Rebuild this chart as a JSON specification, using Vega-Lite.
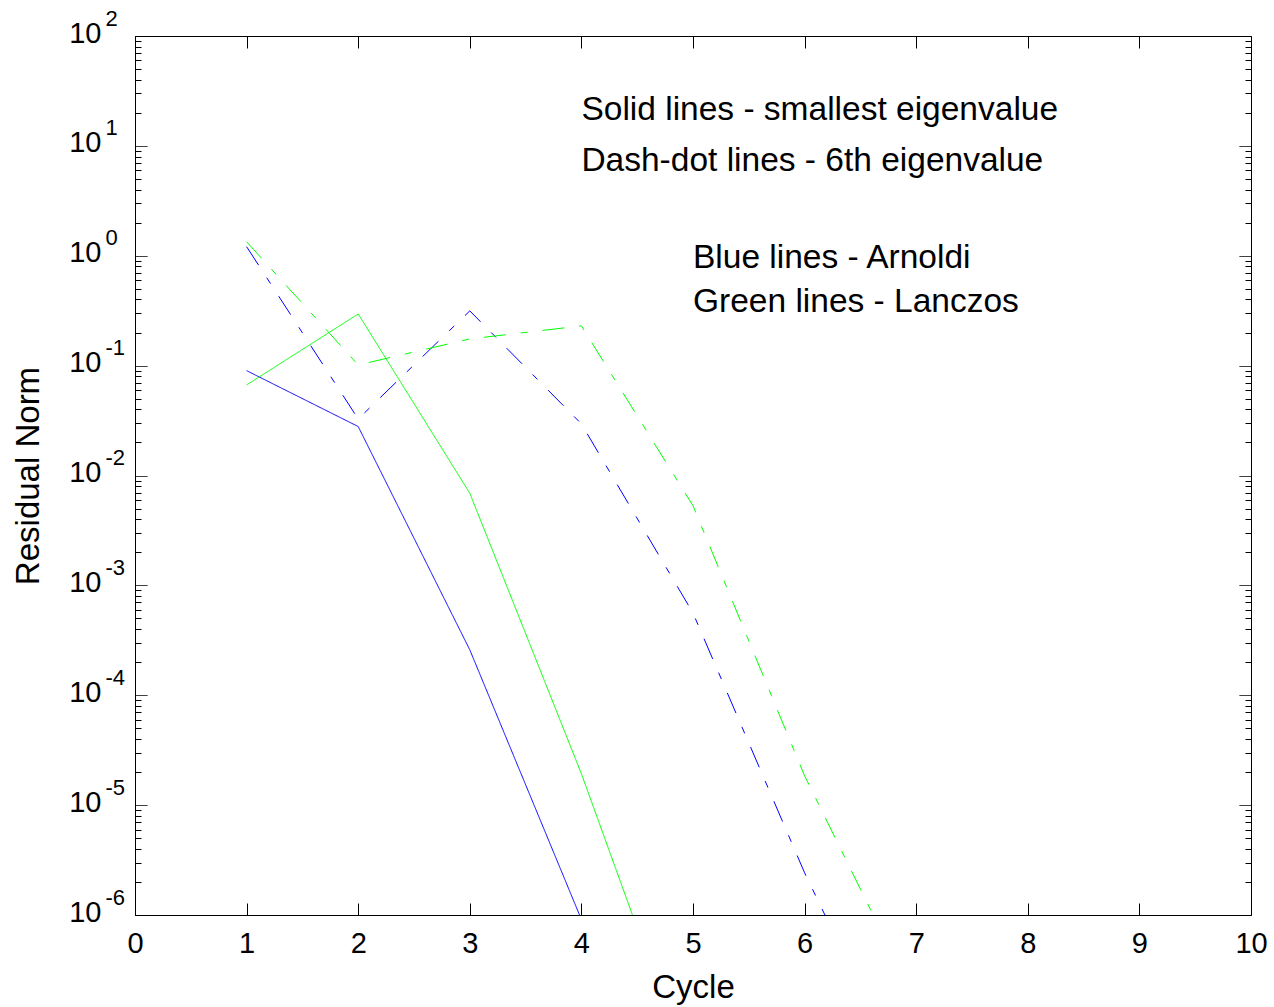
{
  "$schema": "https://vega.github.io/schema/vega-lite/v6.json",
  "width": 1116,
  "height": 879,
  "autosize": {"type": "none"},
  "padding": {"left": 135, "top": 36, "right": 23, "bottom": 92},
  "background": "white",
  "config": {
    "view": {"stroke": null},
    "font": "Liberation Sans",
    "axis": {
      "grid": false,
      "domainColor": "black",
      "tickColor": "black",
      "labelColor": "black",
      "titleColor": "black",
      "labelFont": "Liberation Sans",
      "titleFont": "Liberation Sans",
      "titleFontWeight": "normal",
      "domainWidth": 1,
      "tickWidth": 1,
      "labelOverlap": false,
      "labelFlush": false,
      "labelBound": false
    }
  },
  "datasets": {
    "series": [
      {"method": "Arnoldi", "eig": "smallest", "cycle": 1, "res": 0.090},
      {"method": "Arnoldi", "eig": "smallest", "cycle": 2, "res": 0.0279},
      {"method": "Arnoldi", "eig": "smallest", "cycle": 3, "res": 0.000259},
      {"method": "Arnoldi", "eig": "smallest", "cycle": 4, "res": 9.1e-7},
      {"method": "Lanczos", "eig": "smallest", "cycle": 1, "res": 0.0667},
      {"method": "Lanczos", "eig": "smallest", "cycle": 2, "res": 0.295},
      {"method": "Lanczos", "eig": "smallest", "cycle": 3, "res": 0.0069},
      {"method": "Lanczos", "eig": "smallest", "cycle": 4, "res": 1.93e-5},
      {"method": "Lanczos", "eig": "smallest", "cycle": 5, "res": 3e-8},
      {"method": "Arnoldi", "eig": "6th", "cycle": 1, "res": 1.21},
      {"method": "Arnoldi", "eig": "6th", "cycle": 2, "res": 0.0327},
      {"method": "Arnoldi", "eig": "6th", "cycle": 3, "res": 0.315},
      {"method": "Arnoldi", "eig": "6th", "cycle": 4, "res": 0.0295},
      {"method": "Arnoldi", "eig": "6th", "cycle": 5, "res": 0.00056},
      {"method": "Arnoldi", "eig": "6th", "cycle": 6, "res": 2.42e-6},
      {"method": "Arnoldi", "eig": "6th", "cycle": 7, "res": 1.9e-8},
      {"method": "Lanczos", "eig": "6th", "cycle": 1, "res": 1.34},
      {"method": "Lanczos", "eig": "6th", "cycle": 2, "res": 0.1014},
      {"method": "Lanczos", "eig": "6th", "cycle": 3, "res": 0.175},
      {"method": "Lanczos", "eig": "6th", "cycle": 4, "res": 0.230},
      {"method": "Lanczos", "eig": "6th", "cycle": 5, "res": 0.0053},
      {"method": "Lanczos", "eig": "6th", "cycle": 6, "res": 1.85e-5},
      {"method": "Lanczos", "eig": "6th", "cycle": 7, "res": 1.6e-7}
    ],
    "notesA": [
      {"label": "Solid lines - smallest eigenvalue", "x": 4, "y": 17.2},
      {"label": "Dash-dot lines - 6th eigenvalue", "x": 4, "y": 5.95}
    ],
    "notesB": [
      {"label": "Blue lines - Arnoldi", "x": 5, "y": 0.769},
      {"label": "Green lines - Lanczos", "x": 5, "y": 0.306}
    ]
  },
  "layer": [
    {
      "data": {"name": "series"},
      "mark": {"type": "line", "clip": true, "strokeWidth": 1},
      "encoding": {
        "x": {
          "field": "cycle",
          "type": "quantitative",
          "scale": {"domain": [0, 10], "nice": false, "zero": false},
          "axis": {
            "orient": "bottom",
            "values": [0, 1, 2, 3, 4, 5, 6, 7, 8, 9, 10],
            "tickSize": -12,
            "labelPadding": 26,
            "labelFontSize": 29,
            "title": "Cycle",
            "titleFontSize": 33,
            "titlePadding": 13
          }
        },
        "y": {
          "field": "res",
          "type": "quantitative",
          "scale": {"type": "log", "domain": [1e-6, 100], "nice": false},
          "axis": {
            "orient": "left",
            "values": [1e-6, 2e-6, 3e-6, 4e-6, 5e-6, 6e-6, 7e-6, 8e-6, 9e-6, 1e-5, 2e-5, 3e-5, 4e-5, 5e-5, 6e-5, 7e-5, 8e-5, 9e-5, 0.0001, 0.0002, 0.0003, 0.0004, 0.0005, 0.0006, 0.0007, 0.0008, 0.0009, 0.001, 0.002, 0.003, 0.004, 0.005, 0.006, 0.007, 0.008, 0.009, 0.01, 0.02, 0.03, 0.04, 0.05, 0.06, 0.07, 0.08, 0.09, 0.1, 0.2, 0.3, 0.4, 0.5, 0.6, 0.7, 0.8, 0.9, 1, 2, 3, 4, 5, 6, 7, 8, 9, 10, 20, 30, 40, 50, 60, 70, 80, 90, 100],
            "tickSize": -12,
            "tickDash": {"condition": {"test": "abs(log(datum.value)/LN10 - round(log(datum.value)/LN10)) > 0.001", "value": [6, 40]}, "value": [1, 0]},
            "labelExpr": "abs(log(datum.value)/LN10 - round(log(datum.value)/LN10)) < 0.001 ? '10' : ''",
            "labelFontSize": 29,
            "labelPadding": 46,
            "labelOffset": -3,
            "labelAlign": "right",
            "labelBaseline": "middle",
            "title": "Residual Norm",
            "titleFontSize": 33,
            "titlePadding": 23
          }
        },
        "color": {"field": "method", "type": "nominal", "scale": {"domain": ["Arnoldi", "Lanczos"], "range": ["#0000ff", "#00ff00"]}, "legend": null},
        "strokeDash": {"field": "eig", "type": "nominal", "scale": {"domain": ["smallest", "6th"], "range": [[1, 0], [22, 15, 7, 15]]}, "legend": null}
      }
    },
    {
      "data": {"name": "notesA"},
      "mark": {"type": "text", "align": "left", "baseline": "alphabetic", "fontSize": 33.5, "font": "Liberation Sans", "color": "black"},
      "encoding": {
        "x": {
          "field": "x",
          "type": "quantitative",
          "scale": {"domain": [0, 10], "nice": false, "zero": false},
          "axis": {"orient": "top", "values": [0, 1, 2, 3, 4, 5, 6, 7, 8, 9, 10], "tickSize": -12, "labels": false, "title": null}
        },
        "y": {
          "field": "y",
          "type": "quantitative",
          "scale": {"type": "log", "domain": [1e-6, 100], "nice": false},
          "axis": {
            "orient": "right",
            "values": [1e-6, 2e-6, 3e-6, 4e-6, 5e-6, 6e-6, 7e-6, 8e-6, 9e-6, 1e-5, 2e-5, 3e-5, 4e-5, 5e-5, 6e-5, 7e-5, 8e-5, 9e-5, 0.0001, 0.0002, 0.0003, 0.0004, 0.0005, 0.0006, 0.0007, 0.0008, 0.0009, 0.001, 0.002, 0.003, 0.004, 0.005, 0.006, 0.007, 0.008, 0.009, 0.01, 0.02, 0.03, 0.04, 0.05, 0.06, 0.07, 0.08, 0.09, 0.1, 0.2, 0.3, 0.4, 0.5, 0.6, 0.7, 0.8, 0.9, 1, 2, 3, 4, 5, 6, 7, 8, 9, 10, 20, 30, 40, 50, 60, 70, 80, 90, 100],
            "tickSize": -12,
            "tickDash": {"condition": {"test": "abs(log(datum.value)/LN10 - round(log(datum.value)/LN10)) > 0.001", "value": [6, 40]}, "value": [1, 0]},
            "labels": false,
            "title": null
          }
        },
        "text": {"field": "label", "type": "nominal"}
      }
    },
    {
      "data": {"name": "notesB"},
      "mark": {"type": "text", "align": "left", "baseline": "alphabetic", "fontSize": 33.5, "font": "Liberation Sans", "color": "black"},
      "encoding": {
        "x": {
          "field": "x",
          "type": "quantitative",
          "scale": {"domain": [0, 10], "nice": false, "zero": false},
          "axis": null
        },
        "y": {
          "field": "y",
          "type": "quantitative",
          "scale": {"type": "log", "domain": [1e-6, 100], "nice": false},
          "axis": {
            "orient": "left",
            "values": [1e-6, 1e-5, 0.0001, 0.001, 0.01, 0.1, 1, 10, 100],
            "ticks": false,
            "tickSize": 0,
            "domain": false,
            "labelExpr": "'' + round(log(datum.value)/LN10)",
            "labelFontSize": 22,
            "labelAlign": "left",
            "labelBaseline": "middle",
            "labelPadding": 30,
            "labelOffset": -18,
            "title": null
          }
        },
        "text": {"field": "label", "type": "nominal"}
      }
    }
  ],
  "resolve": {"axis": {"x": "independent", "y": "independent"}}
}
